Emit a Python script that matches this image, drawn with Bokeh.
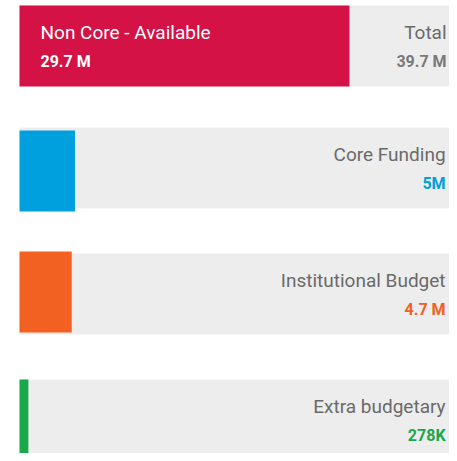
from bokeh.plotting import figure
from bokeh.models import Range1d, ColumnDataSource
from bokeh.core.properties import value
from bokeh.embed import file_html
from bokeh.resources import INLINE

# ---- data ----
total_label = "Total"
total_value = 39.7
total_text = "39.7 M"

main_label = "Non Core - Available"
main_value = 29.7
main_text = "29.7 M"

categories = ["Core Funding", "Institutional Budget", "Extra budgetary"]
values = [5.0, 4.7, 0.278]
value_texts = ["5M", "4.7 M", "278K"]

# ---- style / layout ----
colors = ["#009FDE", "#F26022", "#19A84B"]
main_color = "#D51245"
bg_color = "#EDEDED"
label_grey = "#6A6A6A"
value_grey = "#7A7A7A"
FONT = value("Roboto")
LABEL_SIZE = "19px"
VALUE_SIZE = "16px"

W, H = 449, 453
px_per_unit = 11.11
left_px = 19
x_start = -left_px / px_per_unit
x_end = (W - left_px) / px_per_unit

row_tops = [5, 127, 253, 379]
bar_shift = [0, 3, -2, 0]
row_h = 81
label_dy = 27
value_dy = 56
min_bar = 0.8  # minimum visible bar width (data units)

p = figure(width=W, height=H, output_backend="svg", toolbar_location=None,
           x_range=Range1d(x_start, x_end), y_range=Range1d(H, 0),
           min_border=0, outline_line_color=None)
p.axis.visible = False
p.grid.visible = False
p.background_fill_color = "white"
p.border_fill_color = "white"

# backgrounds
bg_src = ColumnDataSource(dict(
    left=[0] * 4, right=[total_value * 1.05] * 4,
    top=[t for t in row_tops], bottom=[t + row_h for t in row_tops]))
p.quad(left="left", right="right", top="top", bottom="bottom", source=bg_src,
       fill_color=bg_color, line_color=None)

# bars
bar_vals = [main_value] + [max(v, min_bar) for v in values]
bar_cols = [main_color] + colors
bar_src = ColumnDataSource(dict(
    left=[0] * 4, right=bar_vals,
    top=[t + s for t, s in zip(row_tops, bar_shift)],
    bottom=[t + s + row_h for t, s in zip(row_tops, bar_shift)],
    color=bar_cols))
p.quad(left="left", right="right", top="top", bottom="bottom", source=bar_src,
       fill_color="color", line_color=None)

# top panel texts
p.text(x=[0], y=[row_tops[0] + label_dy], text=[main_label], x_offset=21,
       text_color="white", text_font=FONT, text_font_size=LABEL_SIZE,
       text_baseline="alphabetic", text_align="left")
p.text(x=[0], y=[row_tops[0] + value_dy], text=[main_text], x_offset=21,
       text_color="white", text_font=FONT, text_font_size=VALUE_SIZE,
       text_font_style="bold", text_baseline="alphabetic", text_align="left")
p.text(x=[total_value], y=[row_tops[0] + label_dy], text=[total_label], x_offset=-14,
       text_color=label_grey, text_font=FONT, text_font_size=LABEL_SIZE,
       text_baseline="alphabetic", text_align="right")
p.text(x=[total_value], y=[row_tops[0] + value_dy], text=[total_text], x_offset=-14,
       text_color=value_grey, text_font=FONT, text_font_size=VALUE_SIZE,
       text_font_style="bold", text_baseline="alphabetic", text_align="right")

# other panels
lab_src = ColumnDataSource(dict(
    x=[total_value] * 3, y=[t + label_dy for t in row_tops[1:]], text=categories))
p.text(x="x", y="y", text="text", source=lab_src, x_offset=-15,
       text_color=label_grey, text_font=FONT, text_font_size=LABEL_SIZE,
       text_baseline="alphabetic", text_align="right")
val_src = ColumnDataSource(dict(
    x=[total_value] * 3, y=[t + value_dy for t in row_tops[1:]], text=value_texts,
    color=colors))
p.text(x="x", y="y", text="text", source=val_src, x_offset=-15,
       text_color="color", text_font=FONT, text_font_size=VALUE_SIZE,
       text_font_style="bold", text_baseline="alphabetic", text_align="right")

open("out.html", "w").write(file_html(p, INLINE))
